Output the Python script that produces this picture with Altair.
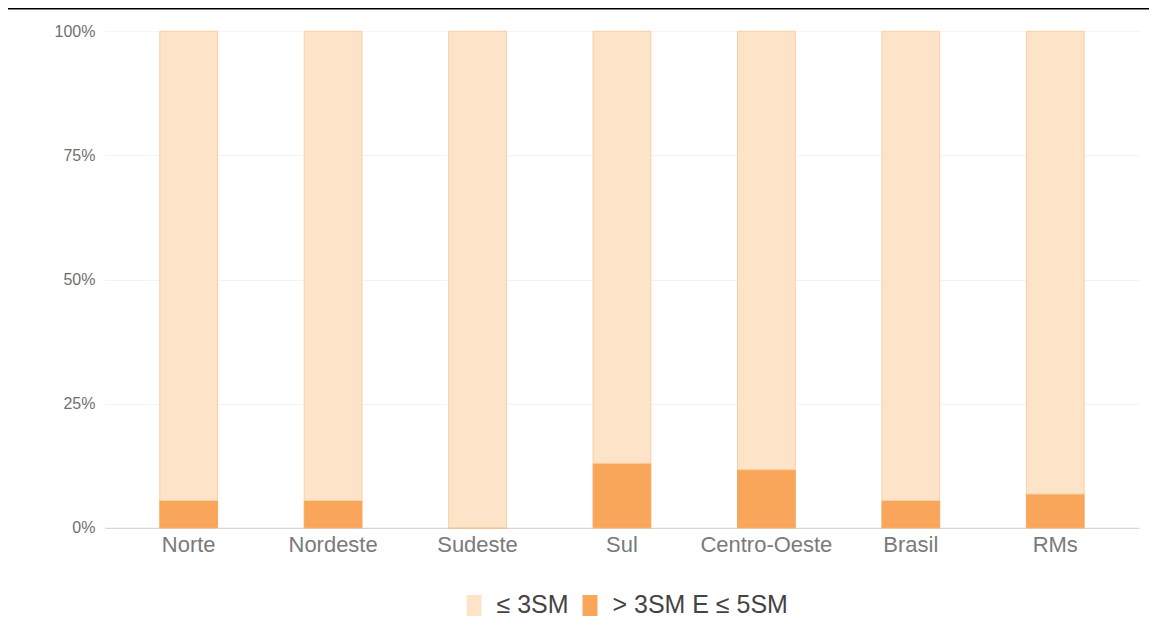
import altair as alt
import pandas as pd

regioes = ["Norte", "Nordeste", "Sudeste", "Sul", "Centro-Oeste", "Brasil", "RMs"]
ate_3sm = [94.5, 94.5, 100.0, 87.0, 88.3, 94.5, 93.2]
de_3_a_5sm = [5.5, 5.5, 0.0, 13.0, 11.7, 5.5, 6.8]
series = ["≤ 3SM", "> 3SM E ≤ 5SM"]
cores = ["#FDE3C8", "#F9A65A"]
bordas = ["#F8D0A0", "#F9A65A"]
y_ticks = [0, 25, 50, 75, 100]

rows = []
for r, a, b in zip(regioes, ate_3sm, de_3_a_5sm):
    rows.append({"regiao": r, "serie": series[1], "valor": b, "ord": 0})
    rows.append({"regiao": r, "serie": series[0], "valor": a, "ord": 1})
df = pd.DataFrame(rows)

bars = alt.Chart(df).mark_bar(strokeWidth=1).encode(
    x=alt.X("regiao:N", sort=regioes, title=None,
            scale=alt.Scale(paddingInner=0.6, paddingOuter=0.38),
            axis=alt.Axis(labelAngle=0, labelFontSize=22, labelColor="#7a7a7a",
                          labelFont="Liberation Sans", ticks=False, labelPadding=7,
                          domainColor="#d0d0d0", grid=False)),
    y=alt.Y("valor:Q", stack="zero", title=None,
            scale=alt.Scale(domain=[0, 100], nice=False),
            axis=alt.Axis(values=y_ticks, labelExpr="datum.value + '%'",
                          labelFontSize=16, labelColor="#707070",
                          labelFont="Liberation Sans", ticks=False, domain=False,
                          labelPadding=10, gridColor="#f3f3f3")),
    color=alt.Color("serie:N", scale=alt.Scale(domain=series, range=cores),
                    legend=alt.Legend(title=None, orient="none", direction="horizontal",
                                      legendX=357, legendY=562,
                                      symbolType="M-1,-1.4L1,-1.4L1,1.4L-1,1.4Z",
                                      symbolSize=225, symbolStrokeWidth=0,
                                      labelFontSize=25, labelColor="#444444",
                                      labelFont="Liberation Sans", labelLimit=0,
                                      columnPadding=8, labelOffset=10)),
    stroke=alt.Stroke("serie:N", scale=alt.Scale(domain=series, range=bordas), legend=None),
    order=alt.Order("ord:Q"),
)

top_line = alt.Chart(pd.DataFrame({"a": [0]})).mark_rule(color="#000000", strokeWidth=2.5).encode(
    x=alt.value(-98), x2=alt.value(1045), y=alt.value(-23)
)

chart = alt.layer(bars, top_line).properties(
    width=1035, height=497,
    autosize=alt.AutoSizeParams(type="none"),
    padding={"left": 97, "top": 23, "right": 10, "bottom": 90},
).configure_view(stroke=None)

chart.save("out.html", embed_options={"renderer": "svg", "actions": False})
